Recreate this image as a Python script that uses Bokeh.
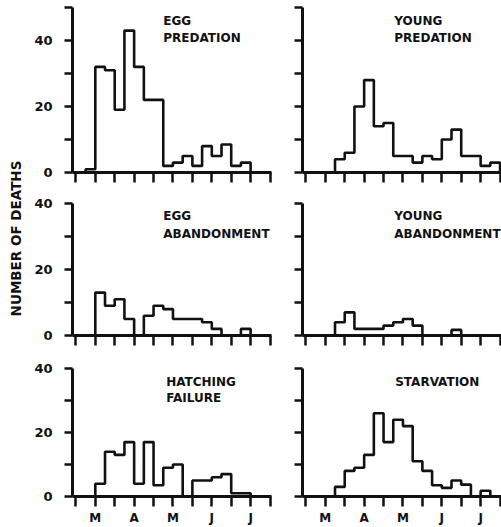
import math
from bokeh.plotting import figure
from bokeh.models import Range1d, FixedTicker, Label
from bokeh.layouts import column, row
from bokeh.embed import file_html
from bokeh.resources import INLINE

# x unit: quarter-month bins; ticks every half month, month labels at month starts
week_starts = list(range(-1, 18))          # left edge of each weekly bin
bin_width = 1
tick_positions = list(range(-2, 19, 2))
month_labels = {0: "M", 4: "A", 8: "M", 12: "J", 16: "J"}

egg_predation = [1, 32, 31, 19, 43, 32, 22, 22, 2, 3, 5, 2, 8, 5, 8.5, 2, 3, 0, 0]
young_predation = [0, 0, 4, 6, 20, 28, 14, 15, 5, 5, 3, 5, 4, 10, 13, 5, 5, 2, 3]
egg_abandonment = [0, 13, 9, 11, 5, 0, 6, 9, 8, 5, 5, 5, 4, 2, 0, 0, 2, 0, 0]
young_abandonment = [0, 0, 4, 7, 2, 2, 2, 3, 4, 5, 3, 0, 0, 0, 1.7, 0, 0, 0, 0]
hatching_failure = [0, 4, 14, 13, 17, 4, 17, 3.5, 9, 10, 0, 5, 5, 6, 7, 1, 1, 0, 0]
starvation = [0, 0, 3, 8, 9, 13, 26, 17, 24, 22, 11, 8, 3.5, 2.7, 5, 3.7, 0, 1.8, 0]

y_title = "NUMBER OF DEATHS"

FONT = "DejaVu Sans"
INK = "#111111"


def panel(values, title_lines, title_x, title_ys, ymax, yticks, ylabels,
          xlabels, width, height, bl, br, bt, bb):
    p = figure(width=width, height=height, output_backend="svg",
               toolbar_location=None, title=None,
               x_range=Range1d(-2.35, 18.15), y_range=Range1d(0, ymax),
               min_border_left=bl, min_border_right=br,
               min_border_top=bt, min_border_bottom=bb)
    p.outline_line_color = None
    p.grid.visible = False
    p.background_fill_color = "white"
    p.border_fill_color = "white"

    edges = week_starts + [week_starts[-1] + bin_width]
    xs = [edges[0]] + edges
    ys = [0] + list(values) + [0]
    p.step(xs, ys, mode="after", line_color=INK, line_width=2.6)

    xa = p.xaxis[0]
    xa.ticker = FixedTicker(ticks=tick_positions)
    xa.axis_line_width = 3
    xa.axis_line_color = INK
    xa.major_tick_line_width = 2.5
    xa.major_tick_line_color = INK
    xa.major_tick_in = 0
    xa.major_tick_out = 10
    xa.minor_tick_line_color = None
    if xlabels:
        xa.major_label_overrides = {t: month_labels.get(t, "") for t in tick_positions}
        xa.major_label_text_font = FONT
        xa.major_label_text_font_style = "bold"
        xa.major_label_text_font_size = "12px"
        xa.major_label_text_color = INK
        xa.major_label_standoff = 4
    else:
        xa.major_label_overrides = {t: "" for t in tick_positions}
        xa.major_label_text_font_size = "0px"
        xa.major_label_standoff = 0

    ya = p.yaxis[0]
    ya.ticker = FixedTicker(ticks=yticks)
    ya.axis_line_width = 3
    ya.axis_line_color = INK
    ya.major_tick_line_width = 2.5
    ya.major_tick_line_color = INK
    ya.major_tick_in = 0
    ya.major_tick_out = 8
    ya.minor_tick_line_color = None
    if ylabels:
        ya.major_label_overrides = {t: (str(t) if t in ylabels else "") for t in yticks}
        ya.major_label_text_font = FONT
        ya.major_label_text_font_style = "bold"
        ya.major_label_text_font_size = "13px"
        ya.major_label_text_color = INK
        ya.major_label_standoff = 12
    else:
        ya.major_label_overrides = {t: "" for t in yticks}
        ya.major_label_text_font_size = "0px"
        ya.major_label_standoff = 0

    for line, ty in zip(title_lines, title_ys):
        p.add_layout(Label(x=title_x, y=ty, text=line, text_font=FONT,
                           text_font_style="bold", text_font_size="12px",
                           text_color=INK, text_align="left",
                           text_baseline="alphabetic"))
    return p


TW = 28
LW, RW = 286 - TW, 215
BL = 72 - TW
top_ticks = [0, 10, 20, 30, 40, 50]
low_ticks = [0, 10, 20, 30, 40]
lab = [0, 20, 40]

p1 = panel(egg_predation, ["EGG", "PREDATION"], 7.0, [46.0, 40.9], 50, top_ticks, lab,
           False, LW, 187, BL, 15, 7, 15)
p2 = panel(young_predation, ["YOUNG", "PREDATION"], 7.1, [46.0, 40.9], 50, top_ticks, None,
           False, RW, 187, 16, 0, 7, 15)
p3 = panel(egg_abandonment, ["EGG", "ABANDONMENT"], 7.0, [36.1, 30.9], 40, low_ticks, lab,
           False, LW, 164, BL, 15, 16, 16)
p4 = panel(young_abandonment, ["YOUNG", "ABANDONMENT"], 7.1, [36.1, 30.9], 40, low_ticks, None,
           False, RW, 164, 16, 0, 16, 16)
p5 = panel(hatching_failure, ["HATCHING", "FAILURE"], 7.3, [35.9, 30.7], 40, low_ticks, lab,
           True, LW, 176, BL, 15, 17, 29)
p6 = panel(starvation, ["STARVATION"], 7.2, [35.9], 40, low_ticks, None,
           True, RW, 176, 16, 0, 17, 29)

# narrow strip holding the shared y-axis title
tf = figure(width=TW, height=527, output_backend="svg", toolbar_location=None,
            title=None, x_range=Range1d(0, TW), y_range=Range1d(0, 527),
            min_border_left=0, min_border_right=0, min_border_top=0,
            min_border_bottom=0)
tf.axis.visible = False
tf.grid.visible = False
tf.outline_line_color = None
tf.add_layout(Label(x=15, y=527 - 238, text=y_title, angle=math.pi / 2,
                    text_font=FONT, text_font_style="bold", text_font_size="13.5px",
                    text_color=INK, text_align="center", text_baseline="middle"))

grid = column(row(p1, p2), row(p3, p4), row(p5, p6))
layout = row(tf, grid)
open("out.html", "w").write(file_html(layout, INLINE))
